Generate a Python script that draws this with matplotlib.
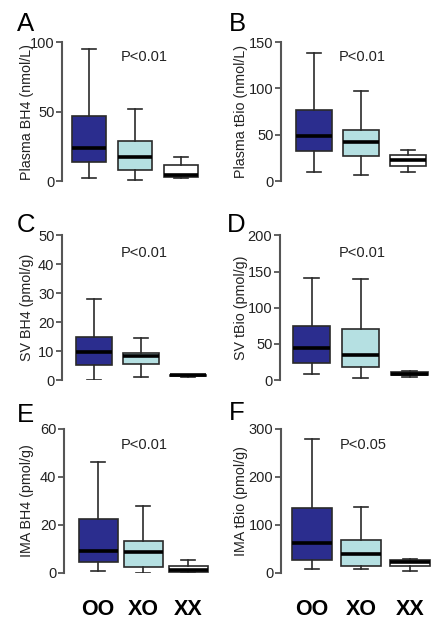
import matplotlib
matplotlib.use("Agg")
import matplotlib.pyplot as plt

plt.rcParams['font.family'] = ['Liberation Sans', 'DejaVu Sans']

groups = ['OO', 'XO', 'XX']
# five-number summaries per group: [whisker low, Q1, median, Q3, whisker high]
plasma_bh4 = [[2, 14, 23.4, 47, 95], [1, 8, 17.6, 29, 52], [2, 3, 4.3, 11.6, 17.6]]
plasma_tbio = [[9.7, 32.4, 48.5, 77, 138.5], [6.9, 27, 42.5, 55.4, 97], [10, 16.2, 22.7, 28, 33.4]]
sv_bh4 = [[0, 5.1, 9.7, 14.9, 28.1], [1.2, 5.6, 8.4, 9.3, 14.5], [1.2, 1.35, 1.6, 1.8, 1.9]]
sv_tbio = [[8.3, 23.9, 44.6, 75, 141.6], [2.3, 17.5, 34.5, 70.3, 139.8], [3.7, 6.9, 8.7, 10.6, 12.9]]
ima_bh4 = [[0.8, 4.6, 9.0, 22.6, 46.1], [0, 2.7, 8.8, 13.5, 27.8], [0, 0.3, 1.1, 3.1, 5.5]]
ima_tbio = [[8.9, 28, 63, 136, 280], [7.5, 13.7, 39.7, 68.5, 138], [4.8, 15, 22.6, 27.4, 29.5]]

panels = [
    ('A', plasma_bh4, 'Plasma BH4 (nmol/L)', 100, [0, 50, 100], 'P<0.01'),
    ('B', plasma_tbio, 'Plasma tBio (nmol/L)', 150, [0, 50, 100, 150], 'P<0.01'),
    ('C', sv_bh4, 'SV BH4 (pmol/g)', 50, [0, 10, 20, 30, 40, 50], 'P<0.01'),
    ('D', sv_tbio, 'SV tBio (pmol/g)', 200, [0, 50, 100, 150, 200], 'P<0.01'),
    ('E', ima_bh4, 'IMA BH4 (pmol/g)', 60, [0, 20, 40, 60], 'P<0.01'),
    ('F', ima_tbio, 'IMA tBio (pmol/g)', 300, [0, 100, 200, 300], 'P<0.05'),
]

colors = ['#2B2D8E', '#B5E0E2', '#FFFFFF']
W, H = 444, 624
fig = plt.figure(figsize=(W / 100, H / 100), dpi=100)

# layout in pixels
rows = [(42, 181), (235.5, 380), (429, 573)]
# per panel: axis-left px, first box center px, box spacing px, box width px
geom = {'A': (62, 89, 46, 34), 'B': (281, 314, 47, 36),
        'C': (62, 94, 47, 36), 'D': (280, 311.5, 49, 37),
        'E': (64, 98, 45, 39), 'F': (281, 312, 49, 40)}
letter_pos = {'A': (17, 31), 'B': (229, 31), 'C': (17, 232), 'D': (227, 232), 'E': (17, 422), 'F': (229, 420)}
ptext_pos = {'A': (144, 57), 'B': (362, 57), 'C': (144, 253), 'D': (362, 253), 'E': (144, 445), 'F': (363, 445)}
ylabel_x = [27, 241]
edge = '#2a2a2a'
spine_col = '#555555'

for i, (letter, stats, ylabel, ymax, yticks, ptxt) in enumerate(panels):
    r, c = divmod(i, 2)
    top, bot = rows[r]
    left_px, c0, sp, bw = geom[letter]
    xlo = 1 - (c0 - left_px) / sp
    xhi = 3.6
    width_px = (xhi - xlo) * sp
    ax = fig.add_axes([left_px / W, 1 - bot / H, width_px / W, (bot - top) / H])
    bxstats = []
    for g, s in zip(groups, stats):
        bxstats.append(dict(label=g, whislo=s[0], q1=s[1], med=s[2], q3=s[3], whishi=s[4], fliers=[]))
    res = ax.bxp(bxstats, positions=[1, 2, 3], widths=bw / sp, patch_artist=True,
                 showfliers=False, capwidths=0.3,
                 boxprops=dict(edgecolor=edge, linewidth=1.2),
                 whiskerprops=dict(color=edge, linewidth=1.2),
                 capprops=dict(color=edge, linewidth=1.2),
                 medianprops=dict(color='black', linewidth=2.6, solid_capstyle='butt'))
    for patch, col in zip(res['boxes'], colors):
        patch.set_facecolor(col)
    ax.set_xlim(xlo, xhi)
    ax.set_ylim(0, ymax)
    ax.set_yticks(yticks)
    ax.tick_params(axis='y', labelsize=10.5, length=4, width=1.3, color=spine_col, pad=1.5, labelcolor='#222222')
    for s in ['top', 'right', 'bottom']:
        ax.spines[s].set_visible(False)
    ax.spines['left'].set_color(spine_col)
    ax.spines['left'].set_linewidth(1.5)
    ax.spines['left'].set_bounds(0, ymax)
    ax.patch.set_visible(False)
    if r == 2:
        ax.set_xticks([1, 2, 3])
        ax.set_xticklabels(groups, fontsize=15.5, fontweight='bold')
        ax.tick_params(axis='x', length=0, pad=19)
    else:
        ax.set_xticks([])
    fig.text(ylabel_x[c] / W, 1 - ((top + bot) / 2) / H, ylabel, rotation=90,
             ha='center', va='center', fontsize=10.3, color='#222222')
    lx, ly = letter_pos[letter]
    fig.text(lx / W, 1 - ly / H, letter, fontsize=18.5, ha='left', va='baseline')
    px, py = ptext_pos[letter]
    fig.text(px / W, 1 - py / H, ptxt, fontsize=10.5, ha='center', va='center', color='#222222')

fig.savefig('out.png', dpi=100)
